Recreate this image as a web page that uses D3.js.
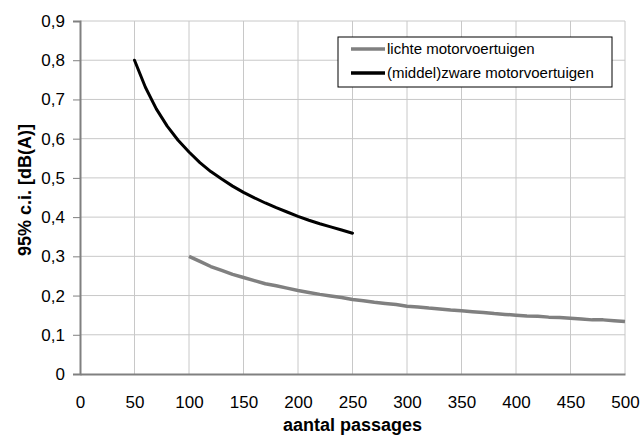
<!DOCTYPE html>
<meta charset="utf-8">
<title>95% c.i.</title>
<script src="https://d3js.org/d3.v7.min.js"></script>
<style>
  body { margin: 0; background: #fff; }
  text { font-family: "Liberation Sans", Arial, sans-serif; }
</style>
<body>
<script>

var w = 643
var h = 436

// values
var passagesZwaar = [50, 60, 70, 80, 90, 100, 110, 120, 130, 140, 150, 160, 170, 180, 190, 200, 210, 220, 230, 240, 250]
var ciZwaar = [0.800, 0.731, 0.676, 0.632, 0.596, 0.566, 0.539, 0.516, 0.497, 0.479, 0.463, 0.449, 0.436, 0.424, 0.413, 0.402, 0.392, 0.383, 0.375, 0.367, 0.359]

var passagesLicht = [100, 110, 120, 130, 140, 150, 160, 170, 180, 190, 200, 210, 220, 230, 240, 250, 260, 270, 280, 290, 300,
  310, 320, 330, 340, 350, 360, 370, 380, 390, 400, 410, 420, 430, 440, 450, 460, 470, 480, 490, 500]
var ciLicht = [0.300, 0.287, 0.274, 0.264, 0.254, 0.246, 0.238, 0.230, 0.225, 0.219, 0.213, 0.208, 0.203, 0.199, 0.195, 0.190, 0.187, 0.183, 0.180, 0.177, 0.173,
  0.171, 0.168, 0.166, 0.163, 0.161, 0.159, 0.157, 0.154, 0.152, 0.150, 0.148, 0.147, 0.145, 0.144, 0.142, 0.140, 0.138, 0.138, 0.136, 0.134]

var xTicks = [0, 50, 100, 150, 200, 250, 300, 350, 400, 450, 500]
var yTicks = [0, 0.1, 0.2, 0.3, 0.4, 0.5, 0.6, 0.7, 0.8, 0.9]

var legendLabels = ["lichte motorvoertuigen", "(middel)zware motorvoertuigen"]
var seriesColors = ["#808080", "#000000"]

var svg = d3.select("body")
  .append("svg")
  .attr("width", w)
  .attr("height", h);

var margin = {left: 80, right: 18, top: 21, bottom: 62}

var x = d3.scaleLinear().domain([0, 500]).range([margin.left, w - margin.right])
var y = d3.scaleLinear().domain([0, 0.9]).range([h - margin.bottom, margin.top])

var comma = function(d) { return d3.format(".1f")(d).replace(".", ",").replace(/^0,0$/, "0") }

// grid
svg.append("g")
  .selectAll("line")
  .data(yTicks.slice(1))
  .enter()
  .append("line")
    .attr("x1", x(0)).attr("x2", x(500))
    .attr("y1", function(d) { return y(d) }).attr("y2", function(d) { return y(d) })
    .attr("stroke", "#c8c8c8");

svg.append("g")
  .selectAll("line")
  .data(xTicks.slice(1))
  .enter()
  .append("line")
    .attr("x1", function(d) { return x(d) }).attr("x2", function(d) { return x(d) })
    .attr("y1", y(0)).attr("y2", y(0.9))
    .attr("stroke", "#c8c8c8");

// axes
var yAxis = svg.append("g")
  .attr("transform", "translate(" + x(0) + ",0)")
  .call(d3.axisLeft(y).tickValues(yTicks).tickFormat(comma).tickSize(7).tickPadding(8));

var xAxis = svg.append("g")
  .attr("transform", "translate(0," + y(0) + ")")
  .call(d3.axisBottom(x).tickValues(xTicks).tickFormat(d3.format("d")).tickSize(0).tickPadding(22));

[yAxis, xAxis].forEach(function(a) {
  a.select(".domain").attr("stroke", "#808080").attr("stroke-width", 2);
  a.selectAll(".tick line").attr("stroke", "#808080");
  a.selectAll("text").attr("font-size", 17).attr("fill", "#000")
    .style("font-family", "'Liberation Sans', Arial, sans-serif");
});

// lines
var line = d3.line()
  .x(function(d) { return x(d[0]) })
  .y(function(d) { return y(d[1]) });

svg.append("path")
  .datum(d3.zip(passagesLicht, ciLicht))
  .attr("d", line)
  .attr("fill", "none")
  .attr("stroke", seriesColors[0])
  .attr("stroke-width", 3.5)
  .attr("stroke-linejoin", "round");

svg.append("path")
  .datum(d3.zip(passagesZwaar, ciZwaar))
  .attr("d", line)
  .attr("fill", "none")
  .attr("stroke", seriesColors[1])
  .attr("stroke-width", 3)
  .attr("stroke-linejoin", "round")
  .attr("stroke-linecap", "round");

// axis titles
svg.append("text")
  .attr("x", x(250))
  .attr("y", 431)
  .attr("text-anchor", "middle")
  .attr("font-size", 18)
  .attr("font-weight", "bold")
  .text("aantal passages");

svg.append("text")
  .attr("transform", "translate(31,190) rotate(-90)")
  .attr("text-anchor", "middle")
  .attr("font-size", 18)
  .attr("font-weight", "bold")
  .text("95% c.i. [dB(A)]");

// legend
var legend = svg.append("g").attr("transform", "translate(338,37)");
legend.append("rect")
  .attr("width", 274).attr("height", 50)
  .attr("fill", "#fff").attr("stroke", "#000");

legend.selectAll("g.item")
  .data(legendLabels)
  .enter()
  .append("g")
    .attr("class", "item")
    .attr("transform", function(d, i) { return "translate(0," + (12 + i * 24) + ")" })
    .each(function(d, i) {
      var g = d3.select(this);
      g.append("line")
        .attr("x1", 13).attr("x2", 47)
        .attr("stroke", seriesColors[i]).attr("stroke-width", 3.5);
      g.append("text")
        .attr("x", 49).attr("dy", "0.35em")
        .attr("font-size", 15)
        .text(d);
    });

</script>
</body>
